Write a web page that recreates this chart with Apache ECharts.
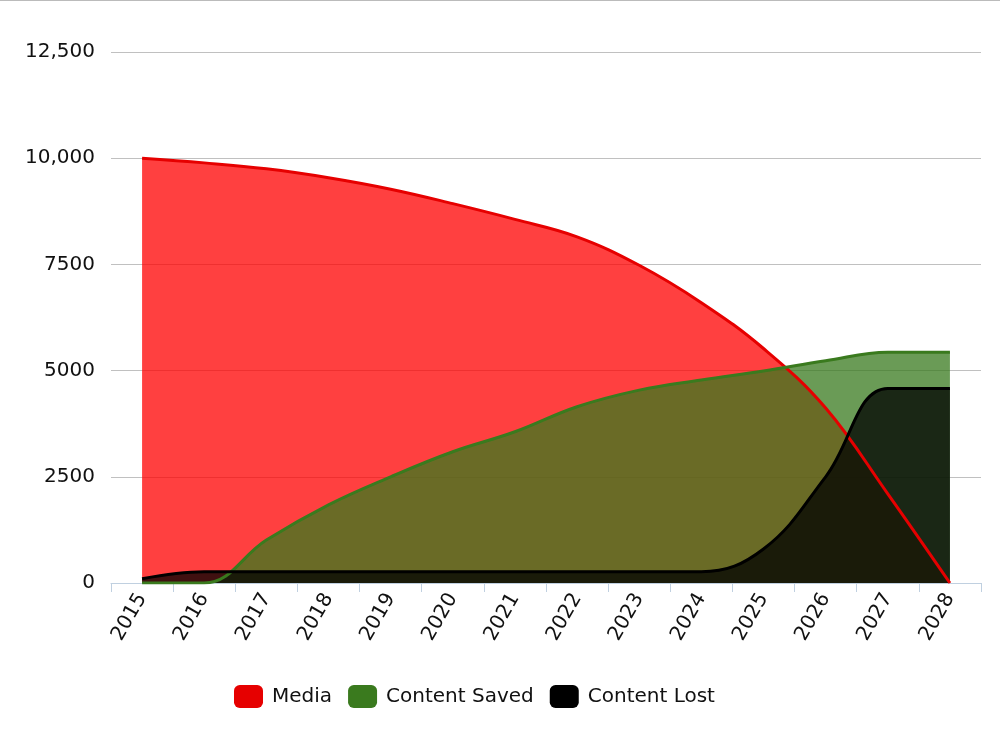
<!DOCTYPE html>
<html>
<head>
<meta charset="utf-8">
<script src="https://cdn.jsdelivr.net/npm/echarts@6/dist/echarts.min.js"></script>
<style>
html,body{margin:0;padding:0;background:#fff;}
#chart{width:1000px;height:741px;}
</style>
</head>
<body>
<div id="chart"></div>
<script>
var years = ['2015','2016','2017','2018','2019','2020','2021','2022','2023','2024','2025','2026','2027','2028'];
var media = [10000, 9890, 9750, 9540, 9270, 8930, 8560, 8150, 7480, 6600, 5520, 4120, 2100, 0];
var contentSaved = [0, 0, 1010, 1840, 2500, 3090, 3560, 4150, 4540, 4780, 4990, 5230, 5430, 5430];
var contentLost = [100, 265, 265, 265, 265, 265, 265, 265, 265, 265, 800, 2500, 4580, 4580];
var yTickLabels = {0:'0', 2500:'2500', 5000:'5000', 7500:'7500', 10000:'10,000', 12500:'12,500'};

var font = 'DejaVu Sans';
var chart = echarts.init(document.getElementById('chart'), null, {renderer:'canvas'});

function areaSeries(name, data, lineColor, fillColor) {
  return {
    name: name,
    type: 'line',
    data: data,
    smooth: 0.4,
    symbol: 'none',
    lineStyle: {color: lineColor, width: 3},
    itemStyle: {color: lineColor},
    areaStyle: {color: fillColor, opacity: 1}
  };
}

chart.setOption({
  animation: false,
  graphic: [{type:'rect', shape:{x:0,y:0,width:1000,height:1}, style:{fill:'#bbbbbb'}}],
  grid: {left: 111, right: 19, top: 52, bottom: 158, containLabel: false},
  legend: {
    bottom: 28,
    left: 229,
    icon: 'roundRect',
    itemWidth: 29,
    itemHeight: 23,
    itemGap: 16,
    textStyle: {fontFamily: font, fontSize: 20, color: '#111', padding: [0,0,0,4]},
    data: ['Media','Content Saved','Content Lost']
  },
  xAxis: {
    type: 'category',
    data: years,
    boundaryGap: true,
    axisLine: {show: true, lineStyle: {color: '#c0d0e0', width: 1}},
    axisTick: {show: true, length: 9, lineStyle: {color: '#c0d0e0'}},
    axisLabel: {rotate: 60, margin: 12, fontFamily: font, fontSize: 20, color: '#111', interval: 0}
  },
  yAxis: {
    type: 'value',
    min: 0,
    max: 12500,
    interval: 2500,
    axisLine: {show: false},
    axisTick: {show: false},
    splitLine: {lineStyle: {color: '#c0c0c0', width: 1}},
    axisLabel: {
      margin: 16,
      fontFamily: font, fontSize: 20, color: '#111',
      formatter: function (v) { return yTickLabels[v] !== undefined ? yTickLabels[v] : String(v); }
    }
  },
  series: [
    areaSeries('Media', media, '#e60000', 'rgba(255,0,0,0.75)'),
    areaSeries('Content Saved', contentSaved, '#3a7a1e', 'rgba(56,122,30,0.75)'),
    areaSeries('Content Lost', contentLost, '#000000', 'rgba(0,0,0,0.75)')
  ]
});
</script>
</body>
</html>
